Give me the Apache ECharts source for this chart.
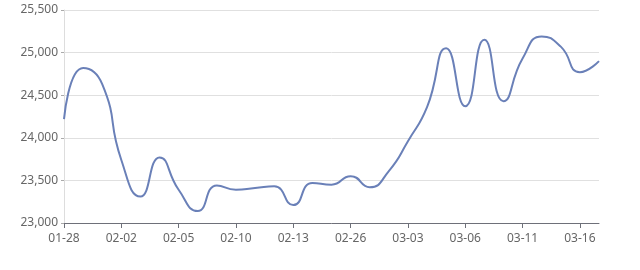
<!DOCTYPE html>
<html>
<head>
<meta charset="utf-8">
<script src="https://cdn.jsdelivr.net/npm/echarts@6/dist/echarts.min.js"></script>
<style>html,body{margin:0;padding:0;background:#fff}#c{width:640px;height:270px}</style>
</head>
<body>
<div id="c"></div>
<script>
const categories = ['01-28','01-30','01-31','02-02','02-03','02-04','02-05','02-06','02-07','02-10','02-11','02-12','02-13','02-24','02-25','02-26','02-27','03-02','03-03','03-04','03-05','03-06','03-09','03-10','03-11','03-12','03-13','03-16','03-17'];
const prices = [24220,24820,24630,23740,23310,23770,23390,23140,23440,23390,23410,23430,23210,23470,23450,23550,23420,23610,23960,24360,25050,24370,25150,24430,24930,25190,25070,24770,24900];
const yTicks = {min:23000, max:25500, interval:500};

const chart = echarts.init(document.getElementById('c'));
chart.setOption({
  animation:false,
  grid:{left:64,right:41,top:10,bottom:47},
  xAxis:{
    type:'category', data:categories, boundaryGap:false,
    axisLine:{lineStyle:{color:'#6E7079'}},
    axisTick:{alignWithLabel:true, interval:2, length:5},
    axisLabel:{interval:2, color:'#666', fontSize:12, margin:10, fontFamily:'Microsoft YaHei, Noto Sans, sans-serif'}
  },
  yAxis:{
    type:'value', min:yTicks.min, max:yTicks.max, interval:yTicks.interval,
    axisLine:{show:true, lineStyle:{color:'#ddd'}},
    axisTick:{show:true, length:3, lineStyle:{color:'#aaa'}},
    splitLine:{lineStyle:{color:'#e0e0e0'}},
    axisLabel:{color:'#666', fontSize:12, margin:6, fontFamily:'Microsoft YaHei, Noto Sans, sans-serif',
      formatter:v=>v.toLocaleString('en-US')}
  },
  series:[{
    type:'line', data:prices, smooth:0.55, showSymbol:false,
    lineStyle:{color:'#6a80b8', width:2}, itemStyle:{color:'#6a80b8'}
  }]
});
</script>
</body>
</html>
